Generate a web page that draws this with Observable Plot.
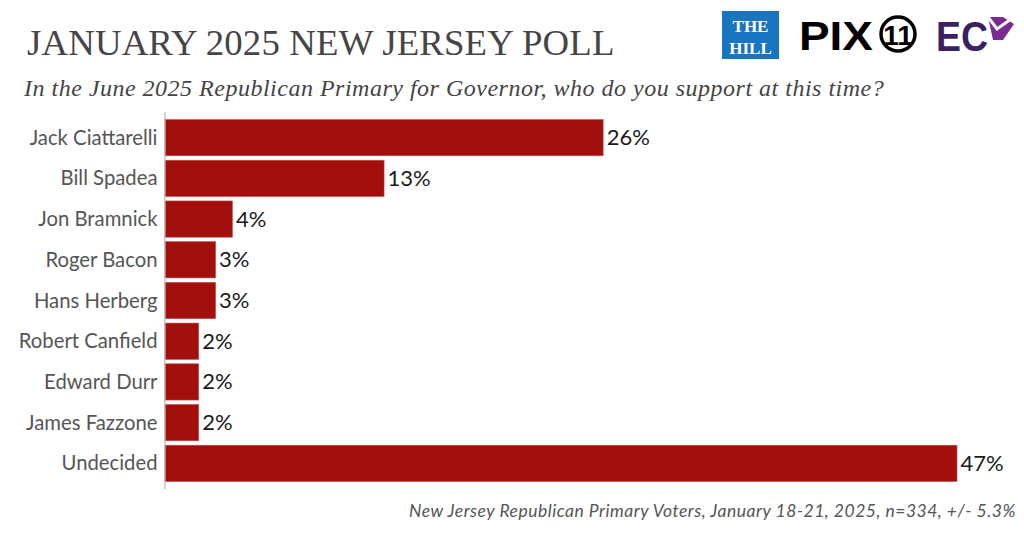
<!DOCTYPE html>
<html>
<head>
<meta charset="utf-8">
<script src="https://cdn.jsdelivr.net/npm/d3@7"></script>
<script src="https://cdn.jsdelivr.net/npm/@observablehq/plot@0.6"></script>
<style>
  html, body { margin: 0; padding: 0; background: #fff; }
  #wrap { position: relative; width: 1024px; height: 535px; overflow: hidden; }
  #title { position: absolute; left: 27px; top: 21px; font-family: "Liberation Serif", serif; font-size: 36.8px; color: #454545; letter-spacing: 0.15px; white-space: nowrap; }
  #subtitle { position: absolute; left: 24px; top: 75px; font-family: "Liberation Serif", serif; font-style: italic; font-size: 24px; color: #444; letter-spacing: 0.5px; white-space: nowrap; }
  #footer { position: absolute; right: 8px; top: 500px; font-family: Lato, sans-serif; font-style: italic; font-size: 17.5px; color: #555; letter-spacing: 0.5px; white-space: nowrap; }
  #logos { position: absolute; left: 0; top: 0; }
  #chart { position: absolute; left: 0; top: 0; }
</style>
</head>
<body>
<div id="wrap">
  <div id="chart"></div>
  <div id="title">JANUARY 2025 NEW JERSEY POLL</div>
  <div id="subtitle">In the June 2025 Republican Primary for Governor, who do you support at this time?</div>
  <div id="footer">New Jersey Republican Primary Voters, January 18-21, 2025, n=334, +/- 5.3%</div>
  <svg id="logos" width="1024" height="70">
    <rect x="722" y="11" width="57" height="48" fill="#1a75c0"/>
    <text x="750.5" y="32" text-anchor="middle" font-family="Liberation Serif, serif" font-weight="bold" font-size="17" fill="#fff">THE</text>
    <text x="750.5" y="54" text-anchor="middle" font-family="Liberation Serif, serif" font-weight="bold" font-size="17" fill="#fff">HILL</text>
    <text x="799" y="50" font-family="Liberation Sans, sans-serif" font-weight="bold" font-size="40" fill="#000" textLength="74" lengthAdjust="spacingAndGlyphs">PIX</text>
    <circle cx="898" cy="34" r="17" fill="none" stroke="#000" stroke-width="3.5"/>
    <text x="898" y="45" text-anchor="middle" font-family="Liberation Sans, sans-serif" font-weight="bold" font-size="28" fill="#000">11</text>
    <text x="936" y="51" font-family="Liberation Sans, sans-serif" font-weight="bold" font-size="42" fill="#3b1f5e" textLength="52" lengthAdjust="spacingAndGlyphs">EC</text>
    <path d="M988 17 L1003 17 L1014 24 L1003 40 L993 40 Z" fill="#7b2a8f"/>
    <path d="M988 17 L997 29 L1014 17" fill="none" stroke="#fff" stroke-width="3"/>
  </svg>
</div>
<script>
const candidates = ["Jack Ciattarelli", "Bill Spadea", "Jon Bramnick", "Roger Bacon", "Hans Herberg", "Robert Canfield", "Edward Durr", "James Fazzone", "Undecided"];
const support = [26, 13, 4, 3, 3, 2, 2, 2, 47];

const data = candidates.map((name, i) => ({name, value: support[i]}));

const chart = Plot.plot({
  width: 1024,
  height: 535,
  marginTop: 112,
  marginBottom: 46,
  marginLeft: 165,
  marginRight: 67,
  style: {fontFamily: "Lato, sans-serif", background: "transparent"},
  x: {domain: [0, 47], axis: null},
  y: {domain: candidates, paddingInner: 0.11, paddingOuter: 0.185, round: false, label: null, tickSize: 0, tickPadding: 8},
  marks: [
    Plot.barX(data, {x: "value", y: "name", fill: "#a30f0c", stroke: "#c24a46", strokeWidth: 0.6}),
    Plot.ruleX([0], {stroke: "#b5b5b5", strokeWidth: 1.2, dx: -0.5}),
    Plot.text(data, {x: "value", y: "name", text: d => d.value + "%", dx: 3, textAnchor: "start", fontSize: 22, fill: "#1a1a1a"}),
    Plot.axisY({tickSize: 0, tickPadding: 8, fontSize: 20.3, color: "#555", label: null, style: {letterSpacing: "0.4px"}})
  ]
});
document.getElementById("chart").appendChild(chart);
</script>
</body>
</html>
